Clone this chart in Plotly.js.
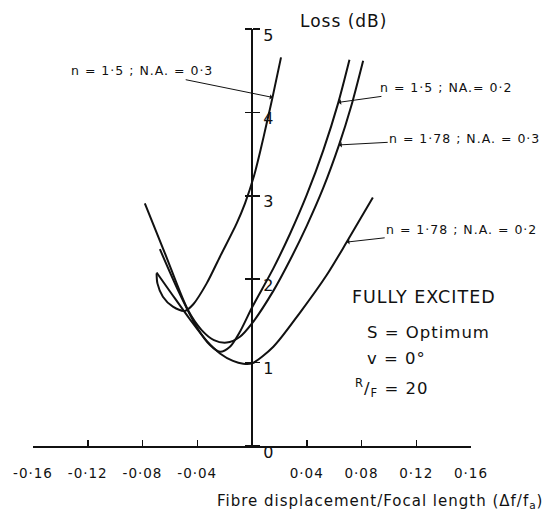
<!DOCTYPE html>
<html>
<head>
<meta charset="utf-8">
<script src="https://cdn.plot.ly/plotly-3.0.1.min.js"></script>
<style>
html,body{margin:0;padding:0;background:#fff;}
svg text{letter-spacing:1px;}
</style>
</head>
<body>
<div id="chart" style="width:546px;height:519px;"></div>
<script>
// Curve data: x = fibre displacement / focal length, y = loss (dB)
const xA = [-0.0697,-0.0691,-0.0651,-0.0578,-0.0490,-0.0429,-0.0331,-0.0234,-0.0112,-0.0051,0.0015,0.0064,0.0106,0.0150,0.0212];
const yA = [2.07,1.95,1.79,1.67,1.62,1.70,1.95,2.27,2.67,2.91,3.24,3.56,3.86,4.18,4.66];

const xB = [-0.0673,-0.0541,-0.0405,-0.0307,-0.0234,-0.0161,-0.0088,0.0,0.0156,0.0278,0.0400,0.0522,0.0631,0.0712];
const yB = [2.36,1.87,1.43,1.21,1.13,1.19,1.37,1.66,2.13,2.545,3.01,3.55,4.12,4.63];

const xC = [-0.0783,-0.0636,-0.0468,-0.0368,-0.0278,-0.0185,-0.0088,0.0,0.0156,0.0278,0.0400,0.0522,0.0636,0.0724,0.0812];
const yC = [2.91,2.31,1.63,1.39,1.27,1.24,1.31,1.47,1.86,2.23,2.64,3.10,3.61,4.07,4.62];

const xD = [-0.0697,-0.0585,-0.0454,-0.0331,-0.0234,-0.0139,-0.0064,0.0,0.0156,0.0351,0.0546,0.0692,0.0883];
const yD = [2.08,1.82,1.52,1.26,1.11,1.02,0.985,0.99,1.19,1.60,2.05,2.445,2.98];

const seriesNames = ["n = 1·5 ; N.A. = 0·3","n = 1·5 ; NA.= 0·2","n = 1·78 ; N.A. = 0·3","n = 1·78 ; N.A. = 0·2"];

const xTickVals = [-0.16,-0.12,-0.08,-0.04,0.04,0.08,0.12,0.16];
const xTickText = ["-0·16","-0·12","-0·08","-0·04","0·04","0·08","0·12","0·16"];
const yTickVals = [0,1,2,3,4,5];
const yTickText = ["0","1","2","3","4","5"];

const FONT = "DejaVu Sans";
const INK = "#111";

function curve(x, y, name){
  return {x:x, y:y, name:name, type:"scatter", mode:"lines",
    line:{color:INK, width:2, shape:"spline", smoothing:0.8},
    hoverinfo:"skip", showlegend:false};
}

const traces = [
  curve(xA,yA,seriesNames[0]),
  curve(xB,yB,seriesNames[1]),
  curve(xC,yC,seriesNames[2]),
  curve(xD,yD,seriesNames[3])
];

function label(text, x, y, tipX, tipY){
  return {text:text, x:tipX, y:tipY, xref:"x", yref:"y",
    ax:x, ay:y, axref:"x", ayref:"y",
    showarrow:true, arrowhead:1, arrowsize:0.9, arrowwidth:1, arrowcolor:INK,
    standoff:0, font:{family:FONT, size:12.5, color:INK}};
}

const annotations = [
  label(seriesNames[0], -0.0807, 4.50, xA[13], yA[13]),
  label(seriesNames[1], 0.1417, 4.30, xB[12], yB[12]),
  label(seriesNames[2], 0.1554, 3.69, xC[12], yC[12]),
  label(seriesNames[3], 0.1532, 2.60, xD[11], yD[11]),
  {text:"Loss (dB)", x:0.709, y:1.018, xref:"paper", yref:"paper", showarrow:false,
   xanchor:"center", yanchor:"middle", font:{family:FONT, size:17, color:INK}},
  {text:"FULLY EXCITED", x:0.0716, y:1.787, xref:"x", yref:"y", showarrow:false,
   xanchor:"left", yanchor:"middle", font:{family:FONT, size:17.5, color:INK}},
  {text:"S = Optimum", x:0.0826, y:1.355, xref:"x", yref:"y", showarrow:false,
   xanchor:"left", yanchor:"middle", font:{family:FONT, size:16.5, color:INK}},
  {text:"v = 0°", x:0.0826, y:1.055, xref:"x", yref:"y", showarrow:false,
   xanchor:"left", yanchor:"middle", font:{family:FONT, size:16.5, color:INK}},
  {text:"<sup>R</sup>/<sub>F</sub> = 20", x:0.0738, y:0.695, xref:"x", yref:"y", showarrow:false,
   xanchor:"left", yanchor:"middle", font:{family:FONT, size:16.5, color:INK}},
  {text:"Fibre displacement/Focal length (Δf/f<sub>a</sub>)", x:0.792, y:-0.134, xref:"paper", yref:"paper",
   showarrow:false, xanchor:"center", yanchor:"middle", font:{family:FONT, size:15, color:INK}}
];

const layout = {
  width:546, height:519,
  margin:{l:33, r:75, t:29, b:73, pad:0},
  paper_bgcolor:"#fff", plot_bgcolor:"#fff",
  showlegend:false,
  font:{family:FONT, color:INK},
  xaxis:{range:[-0.16,0.16], showgrid:false, zeroline:false,
    showline:true, linecolor:INK, linewidth:2,
    ticks:"inside", ticklen:6, tickwidth:1.5, tickcolor:INK,
    tickvals:xTickVals, ticktext:xTickText,
    tickfont:{family:FONT, size:13.5, color:INK},
    ticklabelstandoff:14, fixedrange:true},
  yaxis:{range:[0,5], showgrid:false, zeroline:false,
    anchor:"free", position:0.5, side:"right",
    showline:true, linecolor:INK, linewidth:2,
    ticks:"outside", ticklen:7, tickwidth:1.5, tickcolor:INK,
    tickvals:yTickVals, ticktext:yTickText,
    tickfont:{family:FONT, size:16, color:INK},
    ticklabelshift:6, fixedrange:true},
  yaxis2:{range:[0,5], overlaying:"y", anchor:"free", position:0.5, side:"left",
    showgrid:false, zeroline:false, showline:false,
    ticks:"outside", ticklen:7, tickwidth:1.5, tickcolor:INK,
    tickvals:yTickVals, showticklabels:false, fixedrange:true},
  annotations:annotations
};

// invisible trace so that the mirrored tick marks of yaxis2 are drawn
traces.push({x:[0], y:[0], yaxis:"y2", type:"scatter", mode:"markers",
  marker:{opacity:0}, hoverinfo:"skip", showlegend:false});

Plotly.newPlot("chart", traces, layout, {staticPlot:true, displayModeBar:false});
</script>
</body>
</html>
